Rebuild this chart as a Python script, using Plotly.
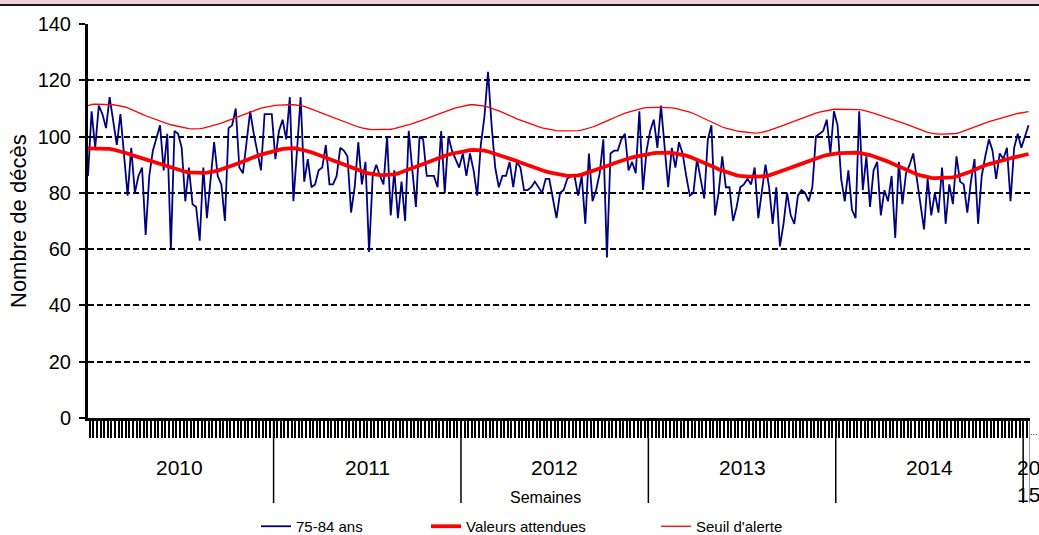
import numpy as np
import plotly.graph_objects as go

# ---------------- data ----------------
years = ["2010", "2011", "2012", "2013", "2014", "2015"]
weeks_per_year = [52, 52, 52, 52, 52, 2]

observed = [
    # 2010
    86, 109, 96, 111, 108, 103, 114, 106, 97, 108, 93, 79, 96, 80, 86, 89, 65, 86, 95, 100,
    104, 88, 101, 60, 102, 101, 96, 77, 89, 76, 75, 63, 89, 71, 86, 98, 86, 83, 70, 103,
    104, 110, 89, 87, 98, 109, 101, 95, 88, 108, 108, 108,
    # 2011
    92, 102, 106, 99, 114, 77, 95, 114, 84, 92, 82, 83, 88, 89, 97, 83, 83, 86, 96, 95,
    93, 73, 82, 98, 83, 91, 59, 86, 90, 86, 83, 100, 72, 88, 71, 84, 70, 102, 88, 75,
    100, 99, 86, 86, 86, 82, 102, 80, 100, 95, 92, 89,
    # 2012
    94, 86, 94, 88, 79, 97, 107, 123, 104, 89, 82, 86, 86, 91, 82, 91, 89, 81, 81, 82,
    84, 82, 80, 85, 85, 78, 71, 80, 81, 85, 86, 86, 79, 86, 69, 94, 77, 81, 87, 99,
    57, 94, 95, 95, 99, 101, 88, 91, 87, 109, 81, 95,
    # 2013
    102, 106, 96, 111, 95, 82, 96, 89, 98, 94, 86, 79, 80, 92, 85, 78, 99, 104, 72, 80,
    93, 82, 82, 70, 75, 82, 83, 85, 83, 89, 71, 81, 90, 82, 69, 82, 61, 69, 80, 72,
    69, 79, 81, 80, 77, 82, 100, 101, 102, 106, 94, 109,
    # 2014
    104, 85, 77, 88, 74, 71, 109, 81, 93, 75, 88, 91, 72, 81, 77, 86, 64, 91, 76, 87,
    90, 94, 85, 77, 67, 85, 72, 80, 73, 89, 69, 83, 76, 93, 84, 83, 73, 84, 92, 69,
    86, 93, 99, 95, 85, 94, 92, 96, 77, 96, 101, 96,
    # 2015
    100, 104,
]

expected = [
    # 2010
    95.8, 95.8, 95.8, 95.8, 95.8, 95.7, 95.6, 95.4, 95.1, 94.8, 94.4, 94.0, 93.5, 93.1, 92.6, 92.2,
    91.7, 91.3, 90.9, 90.4, 90.0, 89.6, 89.2, 88.8, 88.4, 88.1, 87.8, 87.5, 87.3, 87.2, 87.1, 87.1,
    87.1, 87.2, 87.3, 87.6, 87.9, 88.3, 88.7, 89.1, 89.6, 90.1, 90.6, 91.1, 91.7, 92.2, 92.7, 93.2,
    93.6, 94.0, 94.3, 94.6,
    # 2011
    94.9, 95.3, 95.6, 95.8, 95.9, 95.9, 95.7, 95.5, 95.2, 94.8, 94.4, 93.9, 93.5, 93.0, 92.5, 92.0,
    91.5, 91.0, 90.5, 90.0, 89.5, 89.0, 88.5, 88.0, 87.6, 87.2, 86.9, 86.6, 86.4, 86.3, 86.3, 86.3,
    86.4, 86.6, 86.9, 87.3, 87.8, 88.3, 88.8, 89.3, 89.8, 90.3, 90.8, 91.3, 91.8, 92.3, 92.8, 93.2,
    93.6, 93.9, 94.2, 94.5,
    # 2012
    94.8, 95.0, 95.2, 95.3, 95.3, 95.2, 95.0, 94.7, 94.3, 94.0, 93.6, 93.2, 92.8, 92.3, 91.8, 91.3,
    90.8, 90.3, 89.8, 89.3, 88.8, 88.4, 88.0, 87.6, 87.3, 87.0, 86.7, 86.4, 86.2, 86.0, 86.0, 86.0,
    86.2, 86.5, 86.9, 87.3, 87.7, 88.1, 88.5, 89.0, 89.5, 90.0, 90.5, 91.0, 91.4, 91.8, 92.2, 92.6,
    92.9, 93.2, 93.5, 93.7,
    # 2013
    94.0, 94.1, 94.2, 94.3, 94.3, 94.3, 94.2, 94.0, 93.8, 93.5, 93.2, 92.8, 92.3, 91.8, 91.3, 90.7,
    90.1, 89.5, 89.0, 88.4, 87.9, 87.4, 86.9, 86.5, 86.2, 86.0, 85.8, 85.8, 85.8, 85.8, 85.8, 85.8,
    85.9, 86.2, 86.6, 87.0, 87.4, 87.9, 88.4, 88.9, 89.4, 89.9, 90.4, 90.9, 91.4, 91.9, 92.4, 92.8,
    93.1, 93.4, 93.7, 93.9,
    # 2014
    94.0, 94.1, 94.2, 94.3, 94.3, 94.3, 94.2, 94.0, 93.7, 93.4, 93.0, 92.6, 92.1, 91.6, 91.1, 90.5,
    89.9, 89.3, 88.7, 88.1, 87.6, 87.1, 86.6, 86.2, 85.8, 85.5, 85.3, 85.2, 85.2, 85.2, 85.2, 85.3,
    85.5, 85.8, 86.2, 86.6, 87.1, 87.6, 88.2, 88.8, 89.3, 89.8, 90.2, 90.6, 91.0, 91.4, 91.7, 92.0,
    92.3, 92.6, 92.9, 93.2,
    # 2015
    93.5, 93.8,
]

threshold = [
    # 2010
    111.0, 111.4, 111.5, 111.5, 111.5, 111.5, 111.4, 111.3, 111.1, 110.9, 110.6, 110.2, 109.7, 109.2,
    108.6, 108.0, 107.4, 106.9, 106.4, 105.9, 105.4, 105.0, 104.6, 104.2, 103.9, 103.6, 103.3, 103.0,
    102.8, 102.7, 102.7, 102.8, 103.0, 103.3, 103.6, 104.0, 104.4, 104.8, 105.3, 105.8, 106.3, 106.8,
    107.3, 107.8, 108.3, 108.8, 109.3, 109.7, 110.1, 110.4, 110.7, 110.9,
    # 2011
    111.1, 111.2, 111.3, 111.3, 111.3, 111.3, 111.2, 111.0, 110.7, 110.3, 109.8, 109.3, 108.8, 108.3,
    107.8, 107.3, 106.8, 106.2, 105.7, 105.2, 104.7, 104.2, 103.8, 103.4, 103.1, 102.8, 102.6, 102.5,
    102.5, 102.5, 102.5, 102.5, 102.6, 102.8, 103.1, 103.4, 103.8, 104.2, 104.6, 105.0, 105.4, 105.9,
    106.4, 106.9, 107.4, 107.9, 108.4, 108.9, 109.4, 109.8, 110.2, 110.5,
    # 2012
    110.8, 111.1, 111.3, 111.3, 111.2, 111.0, 110.8, 110.5, 110.1, 109.6, 109.1, 108.6, 108.1, 107.5,
    106.9, 106.3, 105.8, 105.3, 104.8, 104.3, 103.9, 103.5, 103.1, 102.8, 102.5, 102.3, 102.1, 102.0,
    102.0, 102.0, 102.0, 102.0, 102.1, 102.3, 102.6, 103.0, 103.4, 103.9, 104.4, 104.9, 105.5, 106.1,
    106.7, 107.3, 107.8, 108.3, 108.7, 109.1, 109.5, 109.8, 110.1, 110.3,
    # 2013
    110.4, 110.4, 110.4, 110.4, 110.4, 110.3, 110.2, 110.0, 109.7, 109.4, 109.1, 108.7, 108.2, 107.6,
    107.0, 106.4, 105.8, 105.1, 104.5, 103.9, 103.4, 103.0, 102.6, 102.3, 102.0, 101.8, 101.6, 101.4,
    101.3, 101.2, 101.3, 101.5, 101.8, 102.2, 102.6, 103.0, 103.5, 104.0, 104.5, 105.0, 105.5, 106.0,
    106.5, 107.0, 107.5, 107.9, 108.3, 108.7, 109.0, 109.3, 109.5, 109.7,
    # 2014
    109.7, 109.7, 109.7, 109.7, 109.7, 109.7, 109.6, 109.4, 109.1, 108.7, 108.3, 107.9, 107.5, 107.1,
    106.7, 106.3, 105.9, 105.4, 104.9, 104.4, 103.9, 103.4, 102.9, 102.4, 101.9, 101.5, 101.2, 101.0,
    100.9, 100.9, 100.9, 100.9, 100.9, 101.1, 101.5, 102.0, 102.5, 103.0, 103.5, 104.0, 104.5, 104.9,
    105.3, 105.7, 106.1, 106.5, 106.9, 107.2, 107.6, 107.9, 108.2, 108.5,
    # 2015
    108.8, 108.9,
]

y_ticks = [0, 20, 40, 60, 80, 100, 120, 140]
series_names = ["75-84 ans", "Valeurs attendues", "Seuil d'alerte"]

# ---------------- figure ----------------
FONT = "Arial, Liberation Sans, sans-serif"
W, H = 1039, 535
ML, MR, MT, MB = 88, 9, 24, 117
plot_h = H - MT - MB


def py(px_y):
    """pixel y (from top of image) -> paper coordinate"""
    return (H - MB - px_y) / plot_h


def pxp(px_x):
    return (px_x - ML) / (W - ML - MR)


n = len(observed)
x = np.arange(n)

fig = go.Figure()
fig.add_trace(go.Scatter(x=x, y=observed, mode="lines", name=series_names[0],
                         line=dict(color="#000080", width=1.8), legend="legend"))
fig.add_trace(go.Scatter(x=x, y=expected, mode="lines", name=series_names[1],
                         line=dict(color="#ff0000", width=3.8), legend="legend2"))
fig.add_trace(go.Scatter(x=x, y=threshold, mode="lines", name=series_names[2],
                         line=dict(color="#ff0000", width=1.3), legend="legend3"))

# year separators and labels
shapes = []
annotations = []
starts = np.concatenate([[0], np.cumsum(weeks_per_year)[:-1]])
for yr, s, cnt in zip(years, starts, weeks_per_year):
    shapes.append(dict(type="line", xref="x", yref="paper", x0=s - 0.5, x1=s - 0.5,
                       y0=0, y1=py(503), line=dict(color="black", width=1.5)))
    label = yr if cnt > 10 else yr[:2] + "<br>" + yr[2:]
    xc = s + (cnt - 1) / 2 if cnt > 10 else s + (cnt - 1) / 2 + 0.4
    annotations.append(dict(x=xc, y=py(454), xref="x", yref="paper",
                            text=label, showarrow=False, xanchor="center", yanchor="top",
                            font=dict(size=21, color="black", family=FONT)))
end = starts[-1] + weeks_per_year[-1] - 0.5
shapes.append(dict(type="line", xref="x", yref="paper", x0=end, x1=end,
                   y0=0, y1=py(503), line=dict(color="black", width=1.5)))

# top pink band
shapes.append(dict(type="rect", xref="paper", yref="paper", x0=-1, x1=2,
                   y0=py(4), y1=py(-2), fillcolor="#ebcfdd", line=dict(width=0), layer="below"))
shapes.append(dict(type="rect", xref="paper", yref="paper", x0=-1, x1=2,
                   y0=py(6), y1=py(4), fillcolor="#1a1a1a", line=dict(width=0)))

annotations.append(dict(x=pxp(545), y=py(497), xref="paper", yref="paper", text="Semaines",
                        xanchor="center", yanchor="middle", showarrow=False,
                        font=dict(size=16, color="black", family=FONT)))
annotations.append(dict(x=pxp(18), y=py(221), xref="paper", yref="paper", text="Nombre de décès",
                        textangle=-90, xanchor="center", yanchor="middle", showarrow=False,
                        font=dict(size=22, color="black", family=FONT)))
annotations.append(dict(x=pxp(1034), y=py(432), xref="paper", yref="paper", text="...",
                        xanchor="center", yanchor="middle", showarrow=False,
                        font=dict(size=9, color="black", family=FONT)))

legend_common = dict(orientation="h", yanchor="top", xanchor="left", bgcolor="rgba(0,0,0,0)",
                     font=dict(size=15, color="black", family=FONT), y=py(510))

fig.update_layout(
    width=W, height=H, autosize=False,
    margin=dict(l=ML, r=MR, t=MT, b=MB, autoexpand=False),
    paper_bgcolor="white", plot_bgcolor="white",
    font=dict(family=FONT, color="black"),
    showlegend=True,
    legend=dict(**legend_common, x=pxp(256)),
    legend2=dict(**legend_common, x=pxp(426)),
    legend3=dict(**legend_common, x=pxp(656)),
    shapes=shapes, annotations=annotations,
    xaxis=dict(range=[0, n - 0.6], showgrid=False, zeroline=False,
               showline=True, linecolor="black", linewidth=3,
               ticks="outside", tick0=0.5, dtick=1, ticklen=17, tickwidth=1.8,
               tickcolor="black", showticklabels=False),
    yaxis=dict(range=[0, 140], tickvals=y_ticks, ticktext=[str(v) for v in y_ticks],
               showgrid=True, gridcolor="black", gridwidth=1.7, griddash="6px,3px",
               zeroline=False, showline=True, linecolor="black", linewidth=3,
               ticks="outside", ticklen=6, tickwidth=2, tickcolor="black",
               ticklabelstandoff=4,
               tickfont=dict(size=20, color="black", family=FONT)),
)

fig.write_html(
    "out.html",
    config={"responsive": False, "displayModeBar": False},
    post_script="document.body.style.margin='0';document.body.style.overflow='hidden';",
)
